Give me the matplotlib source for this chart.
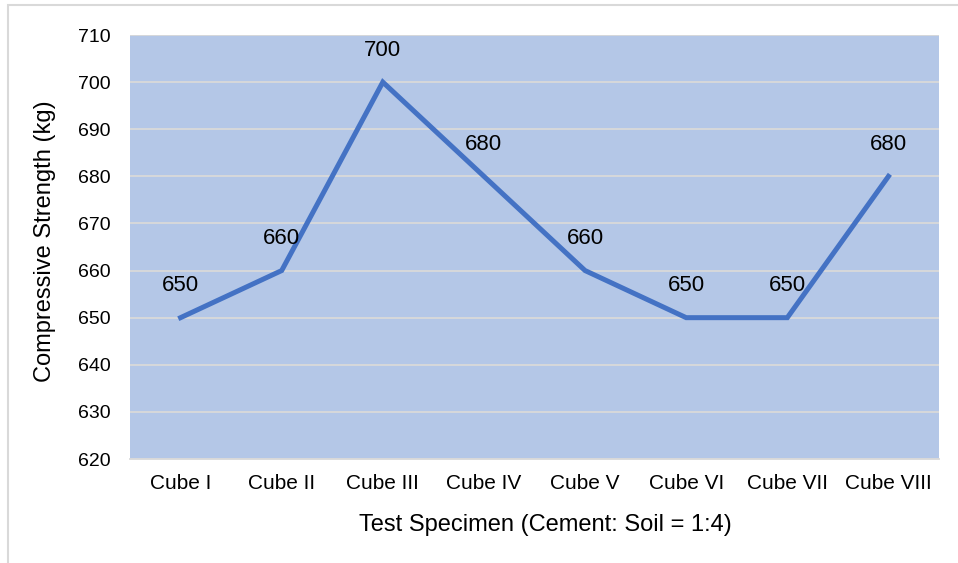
import matplotlib
matplotlib.use("Agg")
import matplotlib.pyplot as plt
from matplotlib.patches import Rectangle

specimens = ['Cube I', 'Cube II', 'Cube III', 'Cube IV', 'Cube V', 'Cube VI', 'Cube VII', 'Cube VIII']
strength = [650, 660, 700, 680, 660, 650, 650, 680]
yticks = [620, 630, 640, 650, 660, 670, 680, 690, 700, 710]

plt.rcParams['font.family'] = ['Liberation Sans', 'DejaVu Sans']

fig = plt.figure(figsize=(9.58, 5.63), dpi=100)
# light frame round the chart (only top/left visible in the reference)
fig.patches.append(Rectangle((8 / 958, -0.1), 1.2, 1 - 5 / 563 + 0.1, transform=fig.transFigure,
                             fill=False, edgecolor='#D9D9D9', linewidth=1.5))

ax = fig.add_axes([130 / 958, 104 / 563, 809 / 958, 424 / 563])
ax.set_facecolor('#B4C7E7')
x = list(range(len(specimens)))
ax.plot(x, strength, color='#4472C4', linewidth=3.6, solid_joinstyle='miter', zorder=3)
for xi, v in zip(x, strength):
    ax.annotate(str(v), (xi, v), xytext=(0, 23), textcoords='offset points',
                ha='center', va='center', fontsize=16, color='#000000')

ax.set_xlim(-0.5, len(specimens) - 0.5)
ax.set_ylim(620, 710)
ax.set_yticks(yticks)
ax.set_xticks(x)
ax.set_xticklabels(specimens)
ax.yaxis.grid(True, color='#D9D9D9', linewidth=1.3)
ax.set_axisbelow(True)
for s in ['top', 'right', 'left']:
    ax.spines[s].set_visible(False)
ax.spines['bottom'].set_color('#D9D9D9')
ax.spines['bottom'].set_linewidth(1.3)
ax.tick_params(axis='both', length=0, colors='#000000')
ax.tick_params(axis='x', pad=11, labelsize=15)
ax.tick_params(axis='y', pad=14, labelsize=14)
ax.set_xlabel('Test Specimen (Cement: Soil = 1:4)', fontsize=17, labelpad=12)
ax.xaxis.set_label_coords(545 / 958, 0, transform=fig.transFigure)
ax.xaxis.label.set_y((563 - 525) / 563)
ax.xaxis.label.set_va('center')
ax.set_ylabel('Compressive Strength (kg)', fontsize=17)
ax.yaxis.set_label_coords(45 / 958, (563 - 241) / 563, transform=fig.transFigure)
ax.yaxis.label.set_va('center')

fig.savefig('out.png', dpi=100)
